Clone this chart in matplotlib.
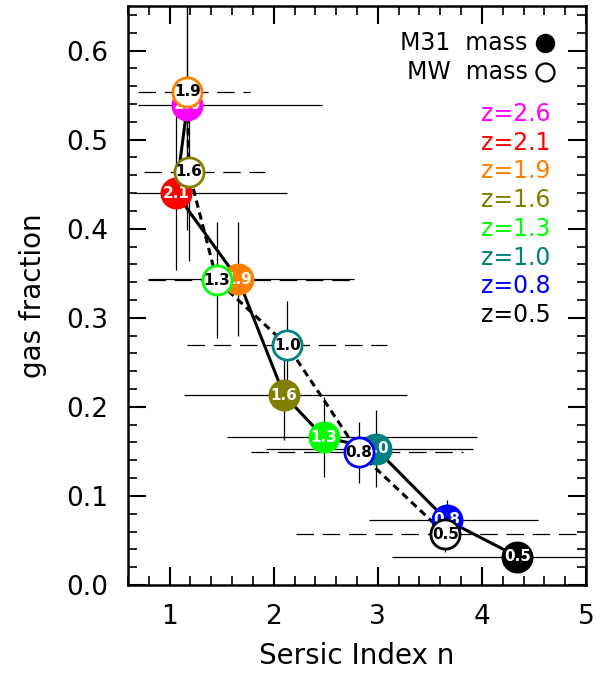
import matplotlib
matplotlib.use("Agg")
import matplotlib.pyplot as plt
from matplotlib.ticker import MultipleLocator

# redshift labels and colours (shared by both mass tracks)
z_labels = ["2.6", "2.1", "1.9", "1.6", "1.3", "1.0", "0.8", "0.5"]
z_colors = ["#ff00ff", "#ff0000", "#ff8000", "#808000",
            "#00ff00", "#008080", "#0000ff", "#000000"]

# M31-mass progenitors (filled circles)
m31_n = [1.17, 1.06, 1.66, 2.10, 2.48, 2.98, 3.66, 4.34]
m31_fg = [0.539, 0.440, 0.343, 0.213, 0.166, 0.153, 0.073, 0.032]
m31_fg_err = [0.14, 0.086, 0.064, 0.05, 0.045, 0.043, 0.022, 0.01]
m31_n_lo = [0.70, 0.66, 0.79, 1.14, 1.55, 1.93, 2.92, 3.14]
m31_n_hi = [2.465, 2.13, 2.77, 3.28, 3.95, 3.91, 4.54, 5.3]

# MW-mass progenitors (open circles), z = 1.9 ... 0.5
mw_z = ["1.9", "1.6", "1.3", "1.0", "0.8", "0.5"]
mw_n = [1.17, 1.185, 1.454, 2.13, 2.817, 3.65]
mw_fg = [0.554, 0.464, 0.342, 0.269, 0.149, 0.057]
mw_fg_err = [0.11, 0.10, 0.065, 0.05, 0.034, 0.02]
mw_n_lo = [0.70, 0.75, 0.79, 1.17, 1.78, 2.21]
mw_n_hi = [1.77, 1.92, 2.77, 3.09, 3.82, 4.90]

col_of = dict(zip(z_labels, z_colors))
mw_colors = [col_of[z] for z in mw_z]

fig = plt.figure(figsize=(6.03, 6.75), dpi=100)
ax = fig.add_axes([0.2123, 0.1333, 0.7595, 0.8578])

# error bars
ax.hlines(m31_fg, m31_n_lo, m31_n_hi, colors="k", lw=0.9, zorder=1)
ax.vlines(m31_n, [f - e for f, e in zip(m31_fg, m31_fg_err)],
          [f + e for f, e in zip(m31_fg, m31_fg_err)], colors="k", lw=0.9, zorder=1)
ax.hlines(mw_fg, mw_n_lo, mw_n_hi, colors="k", lw=0.9,
          linestyles=(0, (14, 7)), zorder=1)
ax.vlines(mw_n, [f - e for f, e in zip(mw_fg, mw_fg_err)],
          [f + e for f, e in zip(mw_fg, mw_fg_err)], colors="k", lw=0.9, zorder=1)

# evolutionary tracks
ax.plot(m31_n, m31_fg, color="k", lw=2.2, zorder=2)
ax.plot(mw_n, mw_fg, color="k", lw=2.2, ls=(0, (2.4, 1.6)), zorder=2)

# M31 points, labelled with redshift
for x, y, z, c in zip(m31_n, m31_fg, z_labels, z_colors):
    ax.plot(x, y, "o", ms=22, mfc=c, mec=c, zorder=3)
    ax.text(x, y, z, color="white", fontsize=11, fontweight="bold",
            ha="center", va="center", zorder=4)

# MW points
for x, y, z, c in zip(mw_n, mw_fg, mw_z, mw_colors):
    ax.plot(x, y, "o", ms=21, mfc="white", mec=c, mew=2.0, zorder=5)
    ax.text(x, y, z, color="black", fontsize=11, fontweight="bold",
            ha="center", va="center", zorder=6)

ax.set_xlim(0.6, 5)
ax.set_ylim(0, 0.65)
ax.xaxis.set_major_locator(MultipleLocator(1))
ax.xaxis.set_minor_locator(MultipleLocator(0.2))
ax.yaxis.set_major_locator(MultipleLocator(0.1))
ax.yaxis.set_minor_locator(MultipleLocator(0.02))
ax.yaxis.set_major_formatter(plt.FormatStrFormatter("%.1f"))
ax.tick_params(which="both", direction="in", top=True, right=True, labelsize=19)
ax.tick_params(which="major", length=13, width=1.5, pad=14)
ax.tick_params(which="minor", length=6.5, width=1.2)
for s in ax.spines.values():
    s.set_linewidth(1.8)

ax.set_xlabel("Sersic Index n", fontsize=20, labelpad=8)
ax.set_ylabel("gas fraction", fontsize=20, labelpad=14)

# legend
ax.text(0.873, 0.9356, "M31  mass", transform=ax.transAxes, ha="right",
        va="center", fontsize=17)
ax.plot(0.910, 0.9356, "o", transform=ax.transAxes, ms=13, mfc="k", mec="k")
ax.text(0.873, 0.8865, "MW  mass", transform=ax.transAxes, ha="right",
        va="center", fontsize=17)
ax.plot(0.910, 0.8865, "o", transform=ax.transAxes, ms=13, mfc="white",
        mec="k", mew=1.6)
for i, (z, c) in enumerate(zip(z_labels, z_colors)):
    ax.text(0.923, 0.8135 - i * 0.0496, "z=" + z, transform=ax.transAxes,
            ha="right", va="center", fontsize=17, color=c)

fig.savefig("out.png", dpi=100)
